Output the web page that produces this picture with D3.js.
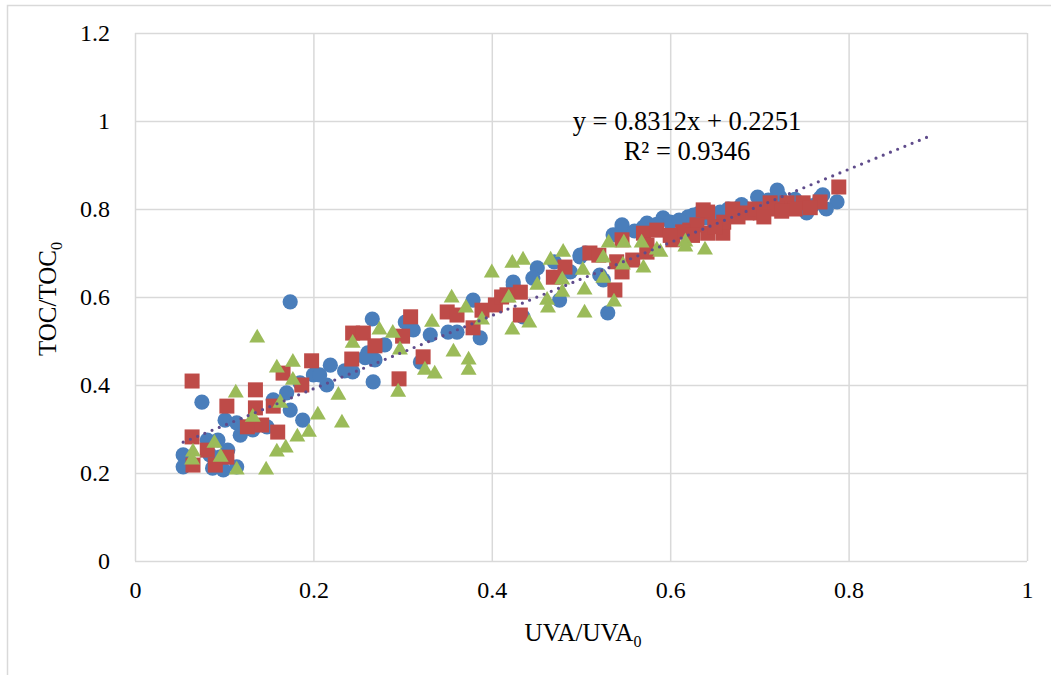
<!DOCTYPE html>
<html>
<head>
<meta charset="utf-8">
<script src="https://cdn.jsdelivr.net/npm/d3@7"></script>
<style>
  html, body { margin: 0; padding: 0; background: #ffffff; }
  svg { display: block; }
  text { font-family: "Liberation Serif", "Times New Roman", serif; fill: #000; }
</style>
</head>
<body>
<svg id="chart" width="1051" height="675"></svg>
<script>
// UVA/UVA0 vs TOC/TOC0 — three series of [x, y] pairs
const seriesCircle = [
  [0.174,0.589],[0.075,0.361],[0.054,0.241],[0.054,0.214],[0.087,0.211],[0.099,0.207],
  [0.104,0.252],[0.093,0.275],[0.101,0.320],[0.114,0.314],[0.118,0.286],[0.132,0.298],
  [0.148,0.305],[0.155,0.366],[0.170,0.382],[0.174,0.343],[0.188,0.320],[0.200,0.423],
  [0.219,0.445],[0.185,0.405],[0.095,0.236],[0.114,0.214],[0.084,0.241],[0.081,0.275],
  [0.266,0.550],[0.303,0.543],[0.312,0.525],[0.331,0.514],[0.379,0.593],[0.424,0.627],
  [0.280,0.491],[0.261,0.473],[0.269,0.457],[0.244,0.430],[0.215,0.400],[0.267,0.407],
  [0.320,0.452],[0.351,0.520],[0.361,0.520],[0.387,0.507],[0.207,0.423],[0.546,0.757],
  [0.570,0.759],[0.536,0.741],[0.499,0.691],[0.451,0.666],[0.446,0.643],[0.424,0.634],
  [0.476,0.593],[0.530,0.564],[0.435,0.555],[0.488,0.657],[0.521,0.650],[0.787,0.816],
  [0.768,0.825],[0.753,0.798],[0.723,0.827],[0.720,0.843],[0.698,0.827],[0.656,0.793],
  [0.771,0.832],[0.753,0.791],[0.633,0.791],[0.620,0.782],[0.546,0.764],[0.574,0.768],
  [0.592,0.780],[0.626,0.786],[0.499,0.695],[0.525,0.639],
  [0.600,0.770],[0.610,0.775],[0.640,0.780],[0.665,0.800],[0.680,0.810],[0.700,0.800],
  [0.710,0.820],[0.735,0.810],[0.740,0.822],[0.760,0.808],[0.775,0.800],[0.560,0.750],
  [0.585,0.765],[0.650,0.772],[0.470,0.680],[0.505,0.700],[0.235,0.432],[0.258,0.462]
];
const seriesSquare = [
  [0.064,0.409],[0.198,0.455],[0.166,0.427],[0.187,0.400],[0.135,0.389],[0.103,0.352],
  [0.135,0.348],[0.155,0.352],[0.126,0.305],[0.142,0.309],[0.160,0.293],[0.064,0.282],
  [0.081,0.252],[0.103,0.236],[0.065,0.218],[0.090,0.218],[0.244,0.518],[0.256,0.518],
  [0.309,0.555],[0.300,0.511],[0.269,0.489],[0.243,0.459],[0.323,0.464],[0.296,0.414],
  [0.350,0.566],[0.361,0.559],[0.379,0.530],[0.389,0.570],[0.404,0.582],[0.411,0.600],
  [0.432,0.559],[0.510,0.700],[0.482,0.668],[0.469,0.645],[0.432,0.611],[0.417,0.605],
  [0.538,0.616],[0.546,0.657],[0.570,0.745],[0.585,0.752],[0.603,0.730],[0.558,0.684],
  [0.574,0.702],[0.622,0.752],[0.789,0.850],[0.768,0.816],[0.749,0.814],[0.731,0.814],
  [0.712,0.814],[0.701,0.791],[0.686,0.791],[0.676,0.782],[0.659,0.745],[0.642,0.793],
  [0.642,0.745],[0.630,0.764],[0.614,0.748],[0.546,0.730],[0.574,0.718],[0.540,0.680],
  [0.637,0.798],
  [0.660,0.770],[0.670,0.800],[0.695,0.800],[0.720,0.800],[0.740,0.800],[0.757,0.803],
  [0.600,0.740],[0.625,0.740],[0.650,0.760],[0.705,0.782],[0.725,0.795],[0.520,0.695]
];
const seriesTriangle = [
  [0.137,0.507],[0.177,0.452],[0.159,0.439],[0.177,0.411],[0.113,0.382],[0.163,0.359],
  [0.132,0.327],[0.205,0.332],[0.195,0.293],[0.182,0.282],[0.169,0.257],[0.159,0.248],
  [0.089,0.268],[0.065,0.248],[0.064,0.230],[0.096,0.236],[0.114,0.207],[0.147,0.207],
  [0.355,0.598],[0.371,0.575],[0.333,0.543],[0.274,0.525],[0.289,0.518],[0.244,0.495],
  [0.297,0.480],[0.357,0.475],[0.374,0.457],[0.374,0.434],[0.325,0.434],[0.336,0.425],
  [0.295,0.384],[0.228,0.377],[0.232,0.314],[0.400,0.655],[0.419,0.598],[0.423,0.525],
  [0.423,0.677],[0.389,0.548],[0.435,0.684],[0.466,0.684],[0.480,0.702],[0.531,0.723],
  [0.548,0.723],[0.568,0.723],[0.617,0.725],[0.502,0.661],[0.525,0.689],[0.547,0.673],
  [0.570,0.666],[0.451,0.627],[0.479,0.639],[0.504,0.616],[0.525,0.643],[0.462,0.593],
  [0.463,0.575],[0.479,0.611],[0.537,0.589],[0.504,0.564],[0.442,0.541],[0.589,0.702],
  [0.617,0.714],[0.639,0.707],[0.585,0.707]
];
const xTicks = [0, 0.2, 0.4, 0.6, 0.8, 1];
const yTicks = [0, 0.2, 0.4, 0.6, 0.8, 1, 1.2];
const trendSlope = 0.8312;
const trendIntercept = 0.2251;
const trendR2 = 0.9346;
const trendForward = 0.1;

const svg = d3.select("#chart");
const W = 1051, H = 675;
const plot = { left: 135, right: 1027, top: 33, bottom: 561 };

// chart area frame
svg.append("rect")
  .attr("x", 7.5).attr("y", 5.5)
  .attr("width", W + 20).attr("height", H + 20)
  .attr("fill", "#ffffff").attr("stroke", "#d9d9d9").attr("stroke-width", 1.5);

const x = d3.scaleLinear().domain([0, 1]).range([plot.left, plot.right]);
const y = d3.scaleLinear().domain([0, 1.2]).range([plot.bottom, plot.top]);
const fmt = d => String(+d.toFixed(1));

// gridlines + tick labels
const gx = svg.append("g")
  .attr("transform", `translate(0,${plot.bottom})`)
  .call(d3.axisBottom(x).tickValues(xTicks).tickFormat(fmt)
    .tickSizeInner(-(plot.bottom - plot.top)).tickSizeOuter(0).tickPadding(20));
const gy = svg.append("g")
  .attr("transform", `translate(${plot.left},0)`)
  .call(d3.axisLeft(y).tickValues(yTicks).tickFormat(fmt)
    .tickSizeInner(-(plot.right - plot.left)).tickSizeOuter(0).tickPadding(25));
[gx, gy].forEach(g => {
  g.select(".domain").remove();
  g.selectAll(".tick line").attr("stroke", "#d9d9d9").attr("stroke-width", 1.5);
  g.selectAll(".tick text").attr("fill", "#000").style("font-size", "24px")
    .style("font-family", "'Liberation Serif', 'Times New Roman', serif");
});

// markers: circles, then squares, then triangles on top
const marks = svg.append("g");
marks.selectAll("circle.s1").data(seriesCircle).join("circle")
  .attr("class", "s1")
  .attr("cx", d => x(d[0])).attr("cy", d => y(d[1])).attr("r", 7.6)
  .attr("fill", "#4a7ebb");
const sq = 15;
marks.selectAll("rect.s2").data(seriesSquare).join("rect")
  .attr("class", "s2")
  .attr("x", d => x(d[0]) - sq / 2).attr("y", d => y(d[1]) - sq / 2)
  .attr("width", sq).attr("height", sq)
  .attr("fill", "#be4b48");
const tri = d3.symbol().type(d3.symbolTriangle).size(110);
marks.selectAll("path.s3").data(seriesTriangle).join("path")
  .attr("class", "s3")
  .attr("transform", d => `translate(${x(d[0])},${y(d[1])})`)
  .attr("d", tri)
  .attr("fill", "#9bbb59");

// linear trendline, from the smallest x to the largest x plus the forward period
const allX = seriesCircle.concat(seriesSquare, seriesTriangle).map(d => d[0]);
const tx0 = d3.min(allX), tx1 = d3.max(allX) + trendForward;
svg.append("line")
  .attr("x1", x(tx0)).attr("y1", y(trendSlope * tx0 + trendIntercept))
  .attr("x2", x(tx1)).attr("y2", y(trendSlope * tx1 + trendIntercept))
  .attr("stroke", "#5f4b8b").attr("stroke-width", 3.2)
  .attr("stroke-linecap", "round").attr("stroke-dasharray", "0 7.8");

// trendline equation
const eq = svg.append("g").attr("transform", "translate(687,0)");
eq.append("text").attr("y", 130).attr("text-anchor", "middle").style("font-size", "26.5px")
  .text(`y = ${trendSlope}x + ${trendIntercept}`);
eq.append("text").attr("y", 160).attr("text-anchor", "middle").style("font-size", "26.5px")
  .text(`R² = ${trendR2}`);

// axis titles
const xt = svg.append("text").attr("x", (plot.left + plot.right) / 2 + 2).attr("y", 641)
  .attr("text-anchor", "middle").style("font-size", "25px");
xt.append("tspan").text("UVA/UVA");
xt.append("tspan").attr("dy", 6).style("font-size", "16px").text("0");

const yt = svg.append("text")
  .attr("transform", `translate(56,${(plot.top + plot.bottom) / 2 + 2}) rotate(-90)`)
  .attr("text-anchor", "middle").style("font-size", "25px");
yt.append("tspan").text("TOC/TOC");
yt.append("tspan").attr("dy", 6).style("font-size", "16px").text("0");
</script>
</body>
</html>
